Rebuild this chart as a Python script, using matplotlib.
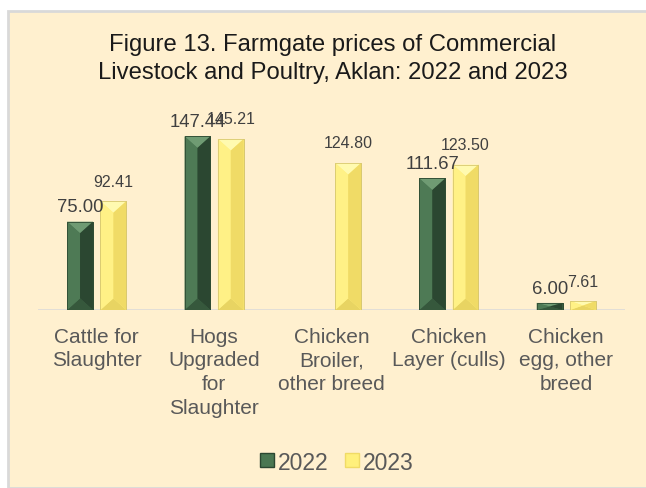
import numpy as np
import matplotlib
matplotlib.use("Agg")
import matplotlib.pyplot as plt
from matplotlib.patches import Rectangle, Polygon
from matplotlib.lines import Line2D

plt.rcParams['font.family'] = ['Liberation Sans', 'DejaVu Sans']

categories = ["Cattle for\nSlaughter", "Hogs\nUpgraded\nfor\nSlaughter",
              "Chicken\nBroiler,\nother breed", "Chicken\nLayer (culls)",
              "Chicken\negg, other\nbreed"]
series_names = ["2022", "2023"]
values_2022 = [75.00, 147.44, np.nan, 111.67, 6.00]
values_2023 = [92.41, 145.21, 124.80, 123.50, 7.61]
title = "Figure 13. Farmgate prices of Commercial\nLivestock and Poultry, Aklan: 2022 and 2023"

W, H = 646, 489
fig = plt.figure(figsize=(W/100, H/100), dpi=100, facecolor="white")
bg = Rectangle((8/W, 0), 1 - 8/W + 0.01, 1 - 12/H, transform=fig.transFigure,
               facecolor="#FFF0CF", edgecolor="#D9D9D9", lw=2, zorder=-10)
fig.patches.append(bg)

ymax = 160
ax_left, ax_w = 38/W, 587/W
base_px = 311
px_per_unit = 1.178
ax_h_px = ymax * px_per_unit
ax = fig.add_axes([ax_left, (H - base_px)/H, ax_w, ax_h_px/H])
ax.set_zorder(5)
ax.patch.set_visible(False)
ax.set_xlim(-0.5, len(categories) - 0.5)
ax.set_ylim(0, ymax)
for s in ax.spines.values():
    s.set_visible(False)
ax.set_yticks([])
ax.axhline(0, color="#D9D9D9", lw=1.8, zorder=1)

x = np.arange(len(categories))
bw = 0.22
off = 0.142
px_per_x = 587/len(categories)

green = dict(face="#4A7752", top="#6F9B73", left="#4E7A55", right="#2B4731", bottom="#36583C", edge="#2E4B33")
yellow = dict(face="#FFF07C", top="#FFFAB0", left="#FFF186", right="#F0DB66", bottom="#E8D462", edge="#D8C870")

def bevel_bars(xs, vals, col, lab_size, lab_pad):
    bars = ax.bar(xs, np.nan_to_num(vals), width=bw, color=col["face"], edgecolor=col["edge"],
                  lw=0.6, zorder=2)
    for rect, v in zip(bars, vals):
        if np.isnan(v):
            rect.set_visible(False)
            continue
        x0 = rect.get_x(); w = rect.get_width(); x1 = x0 + w; xc = x0 + w/2
        h = rect.get_height()
        b = min((w*px_per_x/2)/px_per_unit * 0.9, h/2)
        polys = [
            ([(x0, h), (x1, h), (xc, h - b)], col["top"]),
            ([(x0, 0), (x1, 0), (xc, b)], col["bottom"]),
            ([(x0, h), (xc, h - b), (xc, b), (x0, 0)], col["left"]),
            ([(x1, h), (xc, h - b), (xc, b), (x1, 0)], col["right"]),
        ]
        for pts, c in polys:
            ax.add_patch(Polygon(pts, closed=True, facecolor=c, edgecolor="none", zorder=2.5))
        ax.add_patch(Rectangle((x0, 0), w, h, facecolor="none", edgecolor=col["edge"], lw=0.6, zorder=3))
        ax.annotate(f"{v:.2f}", (xc, h), xytext=(0, lab_pad), textcoords="offset points",
                    ha="center", va="bottom", fontsize=lab_size, color="#404040", zorder=4)
    return bars

bevel_bars(x - off, values_2022, green, 13.3, 4.5)
bevel_bars(x + off, values_2023, yellow, 11.5, 9)

ax.set_xticks(x)
ax.set_xticklabels(categories, fontsize=15, color="#595959", linespacing=1.32)
ax.tick_params(axis="x", length=0, pad=12)

fig.text(0.515, 1 - 59/H, title, ha="center", va="center", fontsize=17.2, color="#1a1a1a",
         linespacing=1.3)

handles = [Line2D([], [], marker="s", ls="none", markersize=9.5, markerfacecolor=green["face"],
                  markeredgecolor=green["right"]),
           Line2D([], [], marker="s", ls="none", markersize=9.5, markerfacecolor=yellow["face"],
                  markeredgecolor=yellow["right"])]
fig.legend(handles, series_names, loc="center", bbox_to_anchor=(0.518, 1 - 463/H), ncol=2,
           frameon=False, fontsize=16.5, handletextpad=0.0, columnspacing=0.5,
           labelcolor="#595959", handlelength=1.0)

fig.savefig("out.png", dpi=100, facecolor="white")
